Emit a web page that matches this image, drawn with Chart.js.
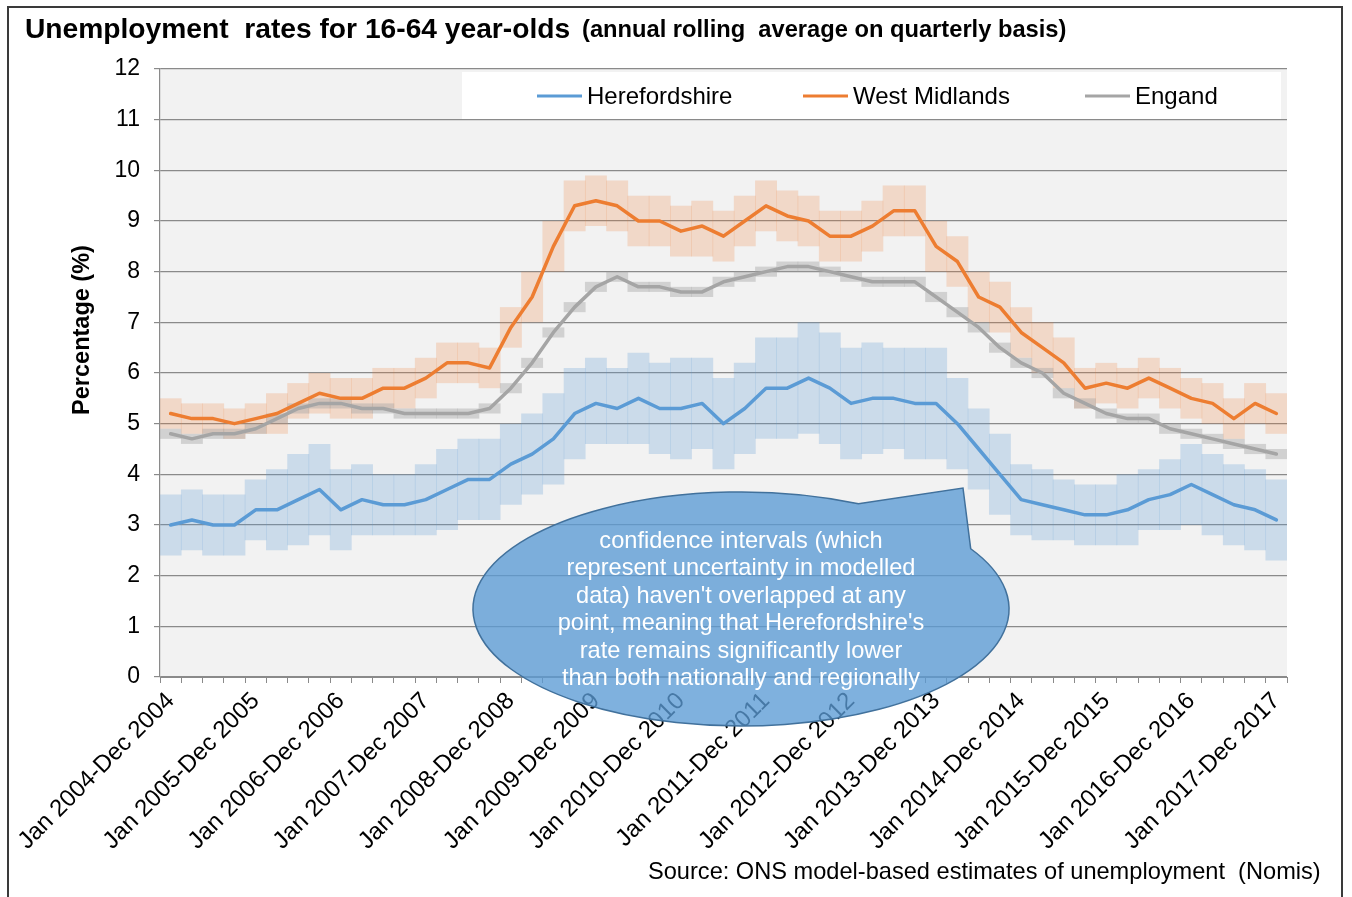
<!DOCTYPE html>
<html>
<head>
<meta charset="utf-8">
<script src="https://cdn.jsdelivr.net/npm/chart.js@4.4.1/dist/chart.umd.min.js"></script>
<style>
  html, body { margin: 0; padding: 0; background: #ffffff; overflow: hidden; }
  #wrap { position: relative; width: 1352px; height: 897px; font-family: "Liberation Sans", Arial, sans-serif; color: #000; }
  #c { position: absolute; left: 0; top: 0; }
  .frame { position: absolute; left: 7px; top: 6px; width: 1336px; height: 900px; border: 2px solid #3a3a3a; box-sizing: border-box; pointer-events: none; }
  .txt { position: absolute; white-space: pre; line-height: 1; }
  #title { left: 25px; top: 14px; font-size: 28.2px; font-weight: bold; }
  #subtitle { left: 582px; top: 18px; font-size: 23.7px; font-weight: bold; }
  #ytitle { left: 82px; top: 330px; font-size: 23.5px; font-weight: bold; transform: translate(-50%, -50%) rotate(-90deg); }
  #source { left: 648px; top: 860px; font-size: 23.6px; }
  #callout { position: absolute; left: 541px; top: 527px; width: 400px; text-align: center; font-size: 23.6px; line-height: 27.4px; color: #ffffff; white-space: nowrap; }
</style>
</head>
<body>
<div id="wrap">
  <canvas id="c" width="1352" height="897"></canvas>
  <div class="frame"></div>
  <div id="title" class="txt">Unemployment  rates for 16-64 year-olds</div>
  <div id="subtitle" class="txt">(annual rolling  average on quarterly basis)</div>
  <div id="ytitle" class="txt">Percentage (%)</div>
  <div id="source" class="txt">Source: ONS model-based estimates of unemployment  (Nomis)</div>
  <div id="callout">confidence intervals (which<br>represent uncertainty in modelled<br>data) haven't overlapped at any<br>point, meaning that Herefordshire's<br>rate remains significantly lower<br>than both nationally and regionally</div>
</div>
<script>
// ---------- DATA ----------
const categories = [
  "Jan 2004-Dec 2004","Apr 2004-Mar 2005","Jul 2004-Jun 2005","Oct 2004-Sep 2005",
  "Jan 2005-Dec 2005","Apr 2005-Mar 2006","Jul 2005-Jun 2006","Oct 2005-Sep 2006",
  "Jan 2006-Dec 2006","Apr 2006-Mar 2007","Jul 2006-Jun 2007","Oct 2006-Sep 2007",
  "Jan 2007-Dec 2007","Apr 2007-Mar 2008","Jul 2007-Jun 2008","Oct 2007-Sep 2008",
  "Jan 2008-Dec 2008","Apr 2008-Mar 2009","Jul 2008-Jun 2009","Oct 2008-Sep 2009",
  "Jan 2009-Dec 2009","Apr 2009-Mar 2010","Jul 2009-Jun 2010","Oct 2009-Sep 2010",
  "Jan 2010-Dec 2010","Apr 2010-Mar 2011","Jul 2010-Jun 2011","Oct 2010-Sep 2011",
  "Jan 2011-Dec 2011","Apr 2011-Mar 2012","Jul 2011-Jun 2012","Oct 2011-Sep 2012",
  "Jan 2012-Dec 2012","Apr 2012-Mar 2013","Jul 2012-Jun 2013","Oct 2012-Sep 2013",
  "Jan 2013-Dec 2013","Apr 2013-Mar 2014","Jul 2013-Jun 2014","Oct 2013-Sep 2014",
  "Jan 2014-Dec 2014","Apr 2014-Mar 2015","Jul 2014-Jun 2015","Oct 2014-Sep 2015",
  "Jan 2015-Dec 2015","Apr 2015-Mar 2016","Jul 2015-Jun 2016","Oct 2015-Sep 2016",
  "Jan 2016-Dec 2016","Apr 2016-Mar 2017","Jul 2016-Jun 2017","Oct 2016-Sep 2017",
  "Jan 2017-Dec 2017"
];

const herefordshire = [
  3.0,3.1,3.0,3.0, 3.3,3.3,3.5,3.7, 3.3,3.5,3.4,3.4, 3.5,3.7,3.9,3.9,
  4.2,4.4,4.7,5.2, 5.4,5.3,5.5,5.3, 5.3,5.4,5.0,5.3, 5.7,5.7,5.9,5.7,
  5.4,5.5,5.5,5.4, 5.4,5.0,4.5,4.0, 3.5,3.4,3.3,3.2, 3.2,3.3,3.5,3.6,
  3.8,3.6,3.4,3.3, 3.1
];
const herefordshireLow = [
  2.4,2.5,2.4,2.4, 2.7,2.5,2.6,2.8, 2.5,2.8,2.8,2.8, 2.8,2.9,3.1,3.1,
  3.4,3.6,3.8,4.3, 4.6,4.6,4.6,4.4, 4.3,4.5,4.1,4.4, 4.7,4.7,4.8,4.6,
  4.3,4.4,4.5,4.3, 4.3,4.1,3.7,3.2, 2.8,2.7,2.7,2.6, 2.6,2.6,2.9,2.9,
  3.0,2.8,2.6,2.5, 2.3
];
const herefordshireHigh = [
  3.6,3.7,3.6,3.6, 3.9,4.1,4.4,4.6, 4.1,4.2,4.0,4.0, 4.2,4.5,4.7,4.7,
  5.0,5.2,5.6,6.1, 6.3,6.1,6.4,6.2, 6.3,6.3,5.9,6.2, 6.7,6.7,7.0,6.8,
  6.5,6.6,6.5,6.5, 6.5,5.9,5.3,4.8, 4.2,4.1,3.9,3.8, 3.8,4.0,4.1,4.3,
  4.6,4.4,4.2,4.1, 3.9
];

const westMidlands = [
  5.2,5.1,5.1,5.0, 5.1,5.2,5.4,5.6, 5.5,5.5,5.7,5.7, 5.9,6.2,6.2,6.1,
  6.9,7.5,8.5,9.3, 9.4,9.3,9.0,9.0, 8.8,8.9,8.7,9.0, 9.3,9.1,9.0,8.7,
  8.7,8.9,9.2,9.2, 8.5,8.2,7.5,7.3, 6.8,6.5,6.2,5.7, 5.8,5.7,5.9,5.7,
  5.5,5.4,5.1,5.4, 5.2
];
const westMidlandsLow = [
  4.9,4.8,4.8,4.7, 4.8,4.8,5.1,5.2, 5.1,5.1,5.3,5.3, 5.5,5.8,5.8,5.7,
  6.5,7.0,8.0,8.8, 8.9,8.8,8.5,8.5, 8.3,8.3,8.2,8.5, 8.8,8.6,8.5,8.2,
  8.2,8.4,8.7,8.7, 8.0,7.7,7.0,6.8, 6.3,6.0,5.7,5.3, 5.4,5.3,5.5,5.3,
  5.1,5.0,4.7,5.0, 4.8
];
const westMidlandsHigh = [
  5.5,5.4,5.4,5.3, 5.4,5.6,5.8,6.0, 5.9,5.9,6.1,6.1, 6.3,6.6,6.6,6.5,
  7.3,8.0,9.0,9.8, 9.9,9.8,9.5,9.5, 9.3,9.4,9.2,9.5, 9.8,9.6,9.5,9.2,
  9.2,9.4,9.7,9.7, 9.0,8.7,8.0,7.8, 7.3,7.0,6.7,6.1, 6.2,6.1,6.3,6.1,
  5.9,5.8,5.5,5.8, 5.6
];

const england = [
  4.8,4.7,4.8,4.8, 4.9,5.1,5.3,5.4, 5.4,5.3,5.3,5.2, 5.2,5.2,5.2,5.3,
  5.7,6.2,6.8,7.3, 7.7,7.9,7.7,7.7, 7.6,7.6,7.8,7.9, 8.0,8.1,8.1,8.0,
  7.9,7.8,7.8,7.8, 7.5,7.2,6.9,6.5, 6.2,6.0,5.6,5.4, 5.2,5.1,5.1,4.9,
  4.8,4.7,4.6,4.5, 4.4
];
const englandLow = [
  4.7,4.6,4.7,4.7, 4.8,5.0,5.2,5.3, 5.3,5.2,5.2,5.1, 5.1,5.1,5.1,5.2,
  5.6,6.1,6.7,7.2, 7.6,7.8,7.6,7.6, 7.5,7.5,7.7,7.8, 7.9,8.0,8.0,7.9,
  7.8,7.7,7.7,7.7, 7.4,7.1,6.8,6.4, 6.1,5.9,5.5,5.3, 5.1,5.0,5.0,4.8,
  4.7,4.6,4.5,4.4, 4.3
];
const englandHigh = [
  4.9,4.8,4.9,4.9, 5.0,5.2,5.4,5.5, 5.5,5.4,5.4,5.3, 5.3,5.3,5.3,5.4,
  5.8,6.3,6.9,7.4, 7.8,8.0,7.8,7.8, 7.7,7.7,7.9,8.0, 8.1,8.2,8.2,8.1,
  8.0,7.9,7.9,7.9, 7.6,7.3,7.0,6.6, 6.3,6.1,5.7,5.5, 5.3,5.2,5.2,5.0,
  4.9,4.8,4.7,4.6, 4.5
];

const yTickValues = [0,1,2,3,4,5,6,7,8,9,10,11,12];
const seriesNames = ["Herefordshire", "West Midlands", "Engand"];

// ---------- CHART ----------
const FONT = '"Liberation Sans", Arial, sans-serif';
const COL = { h: '#5B9BD5', w: '#ED7D31', e: '#A5A5A5' };

function band(low, high) { return low.map((v, i) => [v, high[i]]); }

const bandOpts = { type: 'bar', grouped: false, barPercentage: 1.03, categoryPercentage: 1, borderWidth: 0, borderSkipped: false };
const lineOpts = { type: 'line', borderWidth: 3.5, pointRadius: 0, pointHoverRadius: 0, tension: 0, fill: false, borderJoinStyle: 'round', borderCapStyle: 'round' };

const bgPlugin = {
  id: 'bg',
  beforeDraw(chart) {
    const { ctx, chartArea: a } = chart;
    ctx.save();
    ctx.fillStyle = '#ffffff';
    ctx.fillRect(0, 0, chart.width, chart.height);
    ctx.fillStyle = '#f2f2f2';
    ctx.fillRect(a.left, a.top, a.right - a.left, a.bottom - a.top);
    ctx.restore();
  }
};

const legendPlugin = {
  id: 'customLegend',
  afterDraw(chart) {
    const ctx = chart.ctx;
    ctx.save();
    ctx.fillStyle = '#ffffff';
    ctx.fillRect(462, 72, 819, 47);
    const xs = [537, 803, 1085];
    const lines = chart.data.datasets.filter(d => d.type === 'line');
    lines.forEach((d, k) => {
      const x0 = xs[k], y = 96;
      ctx.strokeStyle = d.borderColor;
      ctx.lineWidth = 3;
      ctx.beginPath(); ctx.moveTo(x0, y); ctx.lineTo(x0 + 45, y); ctx.stroke();
      ctx.fillStyle = '#000';
      ctx.font = '24px ' + FONT;
      ctx.textBaseline = 'middle';
      ctx.textAlign = 'left';
      ctx.fillText(d.label, x0 + 50, y + 1);
    });
    ctx.restore();
  }
};

const bubblePlugin = {
  id: 'bubble',
  afterDraw(chart) {
    const ctx = chart.ctx;
    const cx = 741, cy = 609, rx = 268, ry = 117;
    const tA = -64 * Math.PI / 180, tB = -31 * Math.PI / 180;
    ctx.save();
    ctx.beginPath();
    ctx.ellipse(cx, cy, rx, ry, 0, tB, tA + 2 * Math.PI, false);
    ctx.lineTo(963, 488);
    ctx.closePath();
    ctx.fillStyle = 'rgba(91,155,213,0.78)';
    ctx.fill();
    ctx.strokeStyle = '#41719C';
    ctx.lineWidth = 1.5;
    ctx.stroke();
    ctx.restore();
  }
};

new Chart(document.getElementById('c'), {
  type: 'bar',
  data: {
    labels: categories,
    datasets: [
      Object.assign({ label: seriesNames[0] + ' CI', data: band(herefordshireLow, herefordshireHigh), backgroundColor: 'rgba(91,155,213,0.26)', order: 6 }, bandOpts),
      Object.assign({ label: seriesNames[1] + ' CI', data: band(westMidlandsLow, westMidlandsHigh), backgroundColor: 'rgba(237,125,49,0.22)', order: 5 }, bandOpts),
      Object.assign({ label: seriesNames[2] + ' CI', data: band(englandLow, englandHigh), backgroundColor: 'rgba(165,165,165,0.42)', order: 4 }, bandOpts),
      Object.assign({ label: seriesNames[0], data: herefordshire, borderColor: COL.h, backgroundColor: COL.h, order: 3 }, lineOpts),
      Object.assign({ label: seriesNames[1], data: westMidlands, borderColor: COL.w, backgroundColor: COL.w, order: 2 }, lineOpts),
      Object.assign({ label: seriesNames[2], data: england, borderColor: COL.e, backgroundColor: COL.e, order: 1 }, lineOpts)
    ]
  },
  options: {
    responsive: false,
    animation: false,
    devicePixelRatio: 1,
    layout: { padding: { left: 0, right: 65, top: 69, bottom: 0 } },
    plugins: { legend: { display: false }, title: { display: false }, tooltip: { enabled: false } },
    scales: {
      x: {
        type: 'category',
        offset: true,
        afterFit(s) { s.height = 220; },
        grid: { display: true, drawOnChartArea: false, drawTicks: true, tickLength: 6, color: '#8a8a8a', offset: true },
        border: { display: true, color: '#8a8a8a', width: 1 },
        ticks: {
          autoSkip: false, maxRotation: 45, minRotation: 45, padding: 4,
          color: '#000', font: { family: FONT, size: 24 },
          callback: function (value, index) { return index % 4 === 0 ? this.getLabelForValue(value) : ''; }
        }
      },
      y: {
        min: yTickValues[0], max: yTickValues[yTickValues.length - 1],
        afterFit(s) { s.width = 160; },
        afterBuildTicks(s) { s.ticks = yTickValues.map(v => ({ value: v })); },
        grid: { color: '#8a8a8a', lineWidth: 1.2, drawTicks: true, tickLength: 6 },
        border: { display: true, color: '#8a8a8a', width: 1.2 },
        ticks: { color: '#000', padding: 14, font: { family: FONT, size: 23 } }
      }
    }
  },
  plugins: [bgPlugin, legendPlugin, bubblePlugin]
});
</script>
</body>
</html>
